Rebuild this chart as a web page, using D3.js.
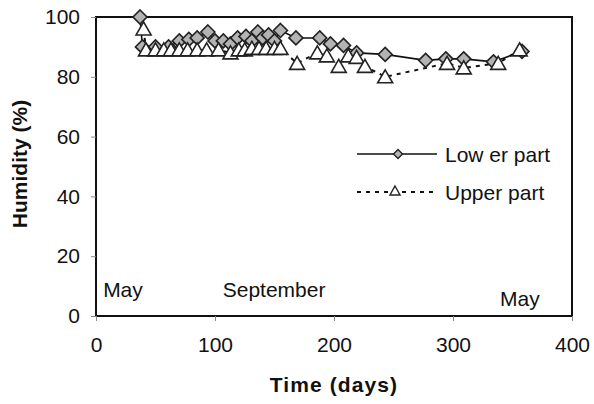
<!DOCTYPE html>
<html lang="en">
<head>
<meta charset="UTF-8">
<title>Humidity over time</title>
<script src="https://d3js.org/d3.v7.js"></script>
<style>
  body { margin: 0; background: #fff; }
  text { font-family: "Liberation Sans", Arial, sans-serif; fill: #111; }
</style>
</head>
<body>
<svg id="chart" width="594" height="404"></svg>
<script>
// lower part (diamonds): [day, humidity %]
var lowerDays = [37, 39, 50, 61, 70, 78, 85, 94, 100, 107, 113, 119, 126, 131, 136, 140, 145, 150, 155, 168, 188, 197, 208, 219, 243, 277, 294, 309, 334, 358];
var lowerHum  = [100, 90, 90, 90, 92, 92.5, 93, 95, 92, 92, 91, 93, 93.5, 92, 95, 93, 94, 92, 95.5, 93, 93, 91, 90.5, 88, 87.5, 85.5, 86, 86, 85, 88.5];

// upper part (triangles)
var upperDays = [40, 42, 50, 57, 63, 70, 77, 85, 93, 103, 113, 120, 125, 131, 137, 143, 150, 155, 169, 186, 194, 204, 212, 219, 226, 243, 295, 309, 338, 356];
var upperHum  = [96, 89, 89, 89, 89, 89, 89, 89, 89, 89, 88, 89, 89, 89.5, 89.5, 89.5, 89.5, 89.5, 84.5, 88, 87, 83.5, 87, 86.5, 83.5, 80, 84.5, 83, 84.5, 89];

var xTicks = [0, 100, 200, 300, 400];
var yTicks = [0, 20, 40, 60, 80, 100];
var seriesNames = ["Low er part", "Upper part"];
var monthLabels = [
  {label: "May", day: 6, h: 6.4},
  {label: "September", day: 106.5, h: 6.4},
  {label: "May", day: 339.5, h: 3.4}
];

var svg = d3.select("#chart");
var mLeft = 96, mRight = 572, mTop = 17, mBottom = 316;

var x = d3.scaleLinear().domain([0, 400]).range([mLeft, mRight]);
var y = d3.scaleLinear().domain([0, 100]).range([mBottom, mTop]);

// plot frame
svg.append("rect")
   .attr("x", mLeft).attr("y", mTop)
   .attr("width", mRight - mLeft).attr("height", mBottom - mTop)
   .attr("fill", "none").attr("stroke", "#111").attr("stroke-width", 2);

// axes
var xAxis = svg.append("g").attr("transform", "translate(0," + mBottom + ")")
   .call(d3.axisBottom(x).tickValues(xTicks).tickSize(5).tickPadding(16));
var yAxis = svg.append("g").attr("transform", "translate(" + mLeft + ",0)")
   .call(d3.axisLeft(y).tickValues(yTicks).tickSize(5).tickPadding(11));
[xAxis, yAxis].forEach(function(a) {
  a.select(".domain").remove();
  a.selectAll("line").attr("stroke", "#888");
  a.selectAll("text").style("font-size", "21px").attr("fill", "#111");
});

// month labels
svg.selectAll(".month").data(monthLabels).join("text")
   .attr("class", "month")
   .attr("x", function(d) { return x(d.day); })
   .attr("y", function(d) { return y(d.h); })
   .style("font-size", "21px")
   .text(function(d) { return d.label; });

var lower = lowerDays.map(function(d, i) { return [d, lowerHum[i]]; });
var upper = upperDays.map(function(d, i) { return [d, upperHum[i]]; });

var line = d3.line().x(function(d) { return x(d[0]); }).y(function(d) { return y(d[1]); });

svg.append("path").datum(upper).attr("d", line)
   .attr("fill", "none").attr("stroke", "#111").attr("stroke-width", 2)
   .attr("stroke-dasharray", "4,5");
svg.append("path").datum(lower).attr("d", line)
   .attr("fill", "none").attr("stroke", "#111").attr("stroke-width", 1.6);

var diamond = "M0,-7L7,0L0,7L-7,0Z";
var triangle = "M0,-7L7.5,6L-7.5,6Z";

svg.selectAll(".low").data(lower).join("path")
   .attr("class", "low")
   .attr("d", diamond)
   .attr("transform", function(d) { return "translate(" + x(d[0]) + "," + y(d[1]) + ")"; })
   .attr("fill", "#b3b3b3").attr("stroke", "#222").attr("stroke-width", 1.6);

svg.selectAll(".up").data(upper).join("path")
   .attr("class", "up")
   .attr("d", triangle)
   .attr("transform", function(d) { return "translate(" + x(d[0]) + "," + y(d[1]) + ")"; })
   .attr("fill", "#fff").attr("stroke", "#222").attr("stroke-width", 1.6);

// legend
var lg = svg.append("g");
lg.append("line").attr("x1", 357).attr("x2", 437).attr("y1", 154).attr("y2", 154)
  .attr("stroke", "#111").attr("stroke-width", 1.6);
lg.append("path").attr("d", "M0,-4.5L4.5,0L0,4.5L-4.5,0Z")
  .attr("transform", "translate(398,154)")
  .attr("fill", "#b3b3b3").attr("stroke", "#222").attr("stroke-width", 1.4);
lg.append("line").attr("x1", 357).attr("x2", 437).attr("y1", 192).attr("y2", 192)
  .attr("stroke", "#111").attr("stroke-width", 2).attr("stroke-dasharray", "4,5");
lg.append("path").attr("d", "M0,-5L5,4L-5,4Z")
  .attr("transform", "translate(395,191)")
  .attr("fill", "#fff").attr("stroke", "#222").attr("stroke-width", 1.4);
lg.selectAll(".lt").data(seriesNames).join("text")
  .attr("x", 445)
  .attr("y", function(d, i) { return 161.5 + i * 38; })
  .style("font-size", "21px")
  .text(function(d) { return d; });

// axis titles
svg.append("text")
   .attr("x", 334).attr("y", 392)
   .attr("text-anchor", "middle")
   .style("font-size", "21px").style("font-weight", "bold").style("letter-spacing", "1.1px")
   .text("Time (days)");
svg.append("text")
   .attr("transform", "translate(27,164) rotate(-90)")
   .attr("text-anchor", "middle")
   .style("font-size", "21px").style("font-weight", "bold")
   .text("Humidity (%)");
</script>
</body>
</html>
